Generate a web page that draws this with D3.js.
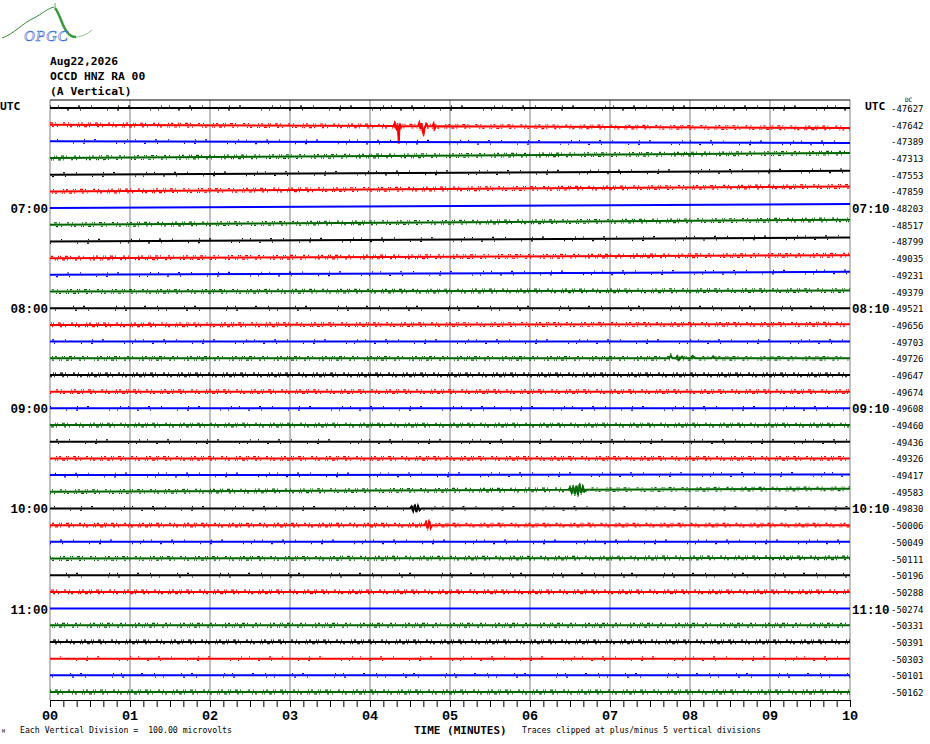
<!DOCTYPE html>
<html>
<head>
<meta charset="utf-8">
<script src="https://cdn.jsdelivr.net/npm/d3@7"></script>
<style>
body { margin: 0; background: #fff; }
svg { display: block; }
</style>
</head>
<body>
<div id="chart"></div>
<script>
// helicorder page: 36 rows of 10 minutes, 06:00 -> 12:00 UTC

var headerLines = ["Aug22,2026", "OCCD HNZ RA 00", "(A Vertical)"];
var minuteLabels = ["00","01","02","03","04","05","06","07","08","09","10"];
var hourRows = [6, 12, 18, 24, 30];
var hourLeft = ["07:00", "08:00", "09:00", "10:00", "11:00"];
var hourRight = ["07:10", "08:10", "09:10", "10:10", "11:10"];

// DC offset printed at the right end of every row
var dcValues = [-47627, -47642, -47389, -47313, -47553, -47859, -48203, -48517, -48799, -49035,
                -49231, -49379, -49521, -49656, -49703, -49726, -49647, -49674, -49608, -49460,
                -49436, -49326, -49417, -49583, -49830, -50006, -50049, -50111, -50196, -50288,
                -50274, -50331, -50391, -50303, -50101, -50162];

// level at the end of the row relative to its start (vertical divisions, up positive)
var driftDiv = [0, -0.2, -0.1, 0.3, 0.24, 0.3, 0.24, 0.3, 0.24, 0.18,
                0.18, 0.06, 0, 0.04, 0, 0, 0, 0, 0, 0,
                0, 0, 0.04, 0.18, 0, 0, 0, 0.04, 0, 0,
                0, 0, 0, 0, 0, 0];

// background noise level (0 quiet .. 2 busy)
var noiseLevel = [1, 2, 1, 2, 1, 2, 0, 2, 1, 2,
                  1, 2, 1, 2, 1, 2, 2, 2, 1, 2,
                  1, 2, 1, 2, 1, 2, 1, 2, 1, 2,
                  0, 2, 2, 1, 1, 2];

// visible signals: [minute, amplitude in divisions]
var events = {
    1: [[4.30, 0], [4.31, 0.15], [4.33, -0.1], [4.345, 0.1], [4.355, -0.55], [4.36, -1.05], [4.365, -0.35],
        [4.375, 0.12], [4.39, -0.05], [4.41, 0], [4.60, 0], [4.615, 0.2], [4.63, -0.15], [4.645, 0.18],
        [4.66, -0.3], [4.67, -0.5], [4.68, -0.15], [4.70, 0.1], [4.72, 0], [4.78, 0], [4.795, 0.15],
        [4.805, -0.15], [4.82, 0]],
    15: [[7.74, 0], [7.76, 0.15], [7.78, 0], [7.82, 0], [7.84, 0.12], [7.86, -0.1], [7.88, 0], [7.90, 0.1],
         [7.92, 0], [8.02, 0], [8.04, 0.1], [8.06, 0], [8.27, 0], [8.29, 0.12], [8.31, 0]],
    23: [[6.48, 0], [6.50, 0.12], [6.52, -0.15], [6.54, 0.2], [6.56, -0.25], [6.58, 0.25], [6.60, -0.3],
         [6.62, 0.32], [6.64, -0.2], [6.66, 0.15], [6.68, -0.1], [6.70, 0]],
    24: [[4.50, 0], [4.52, 0.12], [4.54, -0.15], [4.56, 0.2], [4.58, -0.22], [4.60, 0.15], [4.62, -0.1], [4.64, 0]],
    25: [[4.68, 0], [4.70, 0.15], [4.72, -0.2], [4.74, 0.25], [4.76, -0.15], [4.78, 0]]
};

var traceColors = ["#000000", "#ff0000", "#0000ff", "#006600"];

var width = 930, height = 744;
var svg = d3.select("#chart").append("svg")
    .attr("width", width)
    .attr("height", height);

svg.append("rect").attr("width", width).attr("height", height).attr("fill", "#fff");

var x = d3.scaleLinear().domain([0, 10]).range([50, 850]);
var rowY = d3.scaleLinear().domain([0, dcValues.length - 1]).range([108, 692]);
var rowStep = rowY(1) - rowY(0);
var amp = d3.scaleLinear().domain([0, 1]).range([0, rowStep]);
var plotTop = 100, plotBottom = 700;

// logo
var logo = svg.append("g").attr("id", "logo");
logo.append("path")
    .attr("d", "M2,38 C14,34 24,22 34,18 C42,14 48,8 54,7")
    .attr("fill", "none").attr("stroke", "#2e8b2e").attr("stroke-width", 1);
logo.append("path")
    .attr("d", "M55,8 C60,14 62,26 67,32 C70,36 73,37 76,37")
    .attr("fill", "none").attr("stroke", "#3a9a3a").attr("stroke-width", 2.5);
logo.append("path")
    .attr("d", "M76,37 C82,37 87,34 92,30")
    .attr("fill", "none").attr("stroke", "#8cc48c").attr("stroke-width", 1);
logo.append("line").attr("x1", 55).attr("x2", 55).attr("y1", 3).attr("y2", 8)
    .attr("stroke", "#6aa86a").attr("stroke-width", 1);
logo.append("text")
    .attr("x", 24).attr("y", 41)
    .attr("font-family", "Liberation Serif").attr("font-style", "italic")
    .attr("font-size", 15).attr("fill", "#fff")
    .attr("stroke", "#3b6fd6").attr("stroke-width", 0.6)
    .attr("letter-spacing", 1)
    .text("OPGC");

// header
svg.selectAll("text.header")
    .data(headerLines)
    .enter()
    .append("text")
    .attr("class", "header")
    .attr("x", 50)
    .attr("y", function(d, i) { return 65 + i * 15; })
    .attr("font-family", "DejaVu Sans Mono")
    .attr("font-weight", "bold")
    .attr("font-size", 11.3)
    .text(function(d) { return d; });

// vertical minute grid
svg.append("g")
    .selectAll("line")
    .data(d3.range(0, 11))
    .enter()
    .append("line")
    .attr("x1", function(d) { return x(d); })
    .attr("x2", function(d) { return x(d); })
    .attr("y1", plotTop)
    .attr("y2", plotBottom)
    .attr("stroke", "#808080")
    .attr("stroke-width", 1);

// top border
svg.append("line")
    .attr("x1", x(0)).attr("x2", x(10))
    .attr("y1", plotTop).attr("y2", plotTop)
    .attr("stroke", "#000").attr("stroke-width", 1);

// traces
var speckle = [null, "1 7 1 19 2 11 1 26 1 9 2 31", "1 2 2 5 1 1 1 4 3 2 1 7 2 3 1 9"];
var traces = svg.append("g").attr("id", "traces");

dcValues.forEach(function(dc, i) {
    var drift = driftDiv[i];
    var pts = [[0, 0]];
    (events[i] || []).forEach(function(e) { pts.push([e[0], e[1]]); });
    pts.push([10, 0]);
    var line = d3.line()
        .x(function(d) { return x(d[0]); })
        .y(function(d) { return rowY(i) - amp(d[1] + drift * d[0] / 10); });
    var color = traceColors[i % 4];
    var g = traces.append("g");
    g.append("path")
        .attr("d", line(pts))
        .attr("fill", "none")
        .attr("stroke", color)
        .attr("stroke-width", 2)
        .attr("stroke-linejoin", "miter");
    if (noiseLevel[i] > 0) {
        [-1.8, 1.8].forEach(function(dy, k) {
            g.append("path")
                .attr("d", line(pts))
                .attr("transform", "translate(0," + dy + ")")
                .attr("fill", "none")
                .attr("stroke", color)
                .attr("stroke-width", 1.2)
                .attr("stroke-dasharray", speckle[noiseLevel[i]])
                .attr("stroke-dashoffset", (i * 17 + k * 11) % 53);
        });
    }
});

// row labels
svg.append("text").attr("x", 0).attr("y", 110)
    .attr("font-family", "DejaVu Sans Mono").attr("font-weight", "bold").attr("font-size", 11.3)
    .text("UTC");
svg.append("text").attr("x", 865).attr("y", 110)
    .attr("font-family", "DejaVu Sans Mono").attr("font-weight", "bold").attr("font-size", 11.3)
    .text("UTC");

svg.selectAll("text.hourLeft")
    .data(hourRows)
    .enter()
    .append("text")
    .attr("class", "hourLeft")
    .attr("x", 48)
    .attr("y", function(d) { return rowY(d) + 5; })
    .attr("text-anchor", "end")
    .attr("font-family", "Liberation Mono")
    .attr("font-weight", "bold")
    .attr("font-size", 12.5)
    .text(function(d, i) { return hourLeft[i]; });

svg.selectAll("text.hourRight")
    .data(hourRows)
    .enter()
    .append("text")
    .attr("class", "hourRight")
    .attr("x", 852)
    .attr("y", function(d) { return rowY(d) + 5; })
    .attr("font-family", "Liberation Mono")
    .attr("font-weight", "bold")
    .attr("font-size", 12.5)
    .text(function(d, i) { return hourRight[i]; });

svg.append("text").attr("x", 905).attr("y", 102)
    .attr("font-family", "DejaVu Sans Mono").attr("font-size", 6)
    .text("DC");

svg.selectAll("text.dc")
    .data(dcValues)
    .enter()
    .append("text")
    .attr("class", "dc")
    .attr("x", 891)
    .attr("y", function(d, i) { return rowY(i) + 4; })
    .attr("font-family", "DejaVu Sans Mono")
    .attr("font-size", 9)
    .text(function(d) { return d; });

// time axis
var axis = d3.axisBottom(x)
    .tickValues(d3.range(0, 61).map(function(k) { return k / 6; }))
    .tickSize(7)
    .tickSizeOuter(0)
    .tickFormat(function() { return ""; });

var axisG = svg.append("g")
    .attr("transform", "translate(0," + plotBottom + ")")
    .call(axis);
axisG.select(".domain").attr("stroke", "#000");
axisG.selectAll(".tick line").attr("stroke", "#000");

svg.selectAll("text.minute")
    .data(minuteLabels)
    .enter()
    .append("text")
    .attr("class", "minute")
    .attr("x", function(d, i) { return x(i); })
    .attr("y", 720)
    .attr("text-anchor", "middle")
    .attr("font-family", "Liberation Mono")
    .attr("font-weight", "bold")
    .attr("font-size", 13.5)
    .text(function(d) { return d; });

svg.append("text").attr("x", 414).attr("y", 733.5)
    .attr("font-family", "DejaVu Sans Mono").attr("font-weight", "bold").attr("font-size", 11)
    .text("TIME (MINUTES)");
svg.append("text").attr("x", 522).attr("y", 733)
    .attr("font-family", "DejaVu Sans Mono").attr("font-size", 8.1)
    .text("Traces clipped at plus/minus 5 vertical divisions");
svg.append("text").attr("x", 20).attr("y", 733)
    .attr("font-family", "DejaVu Sans Mono").attr("font-size", 8.2)
    .attr("xml:space", "preserve")
    .text("Each Vertical Division =  100.00 microvolts");
svg.append("text").attr("x", 2).attr("y", 733)
    .attr("font-family", "DejaVu Sans Mono").attr("font-size", 5)
    .text("M");
</script>
</body>
</html>
